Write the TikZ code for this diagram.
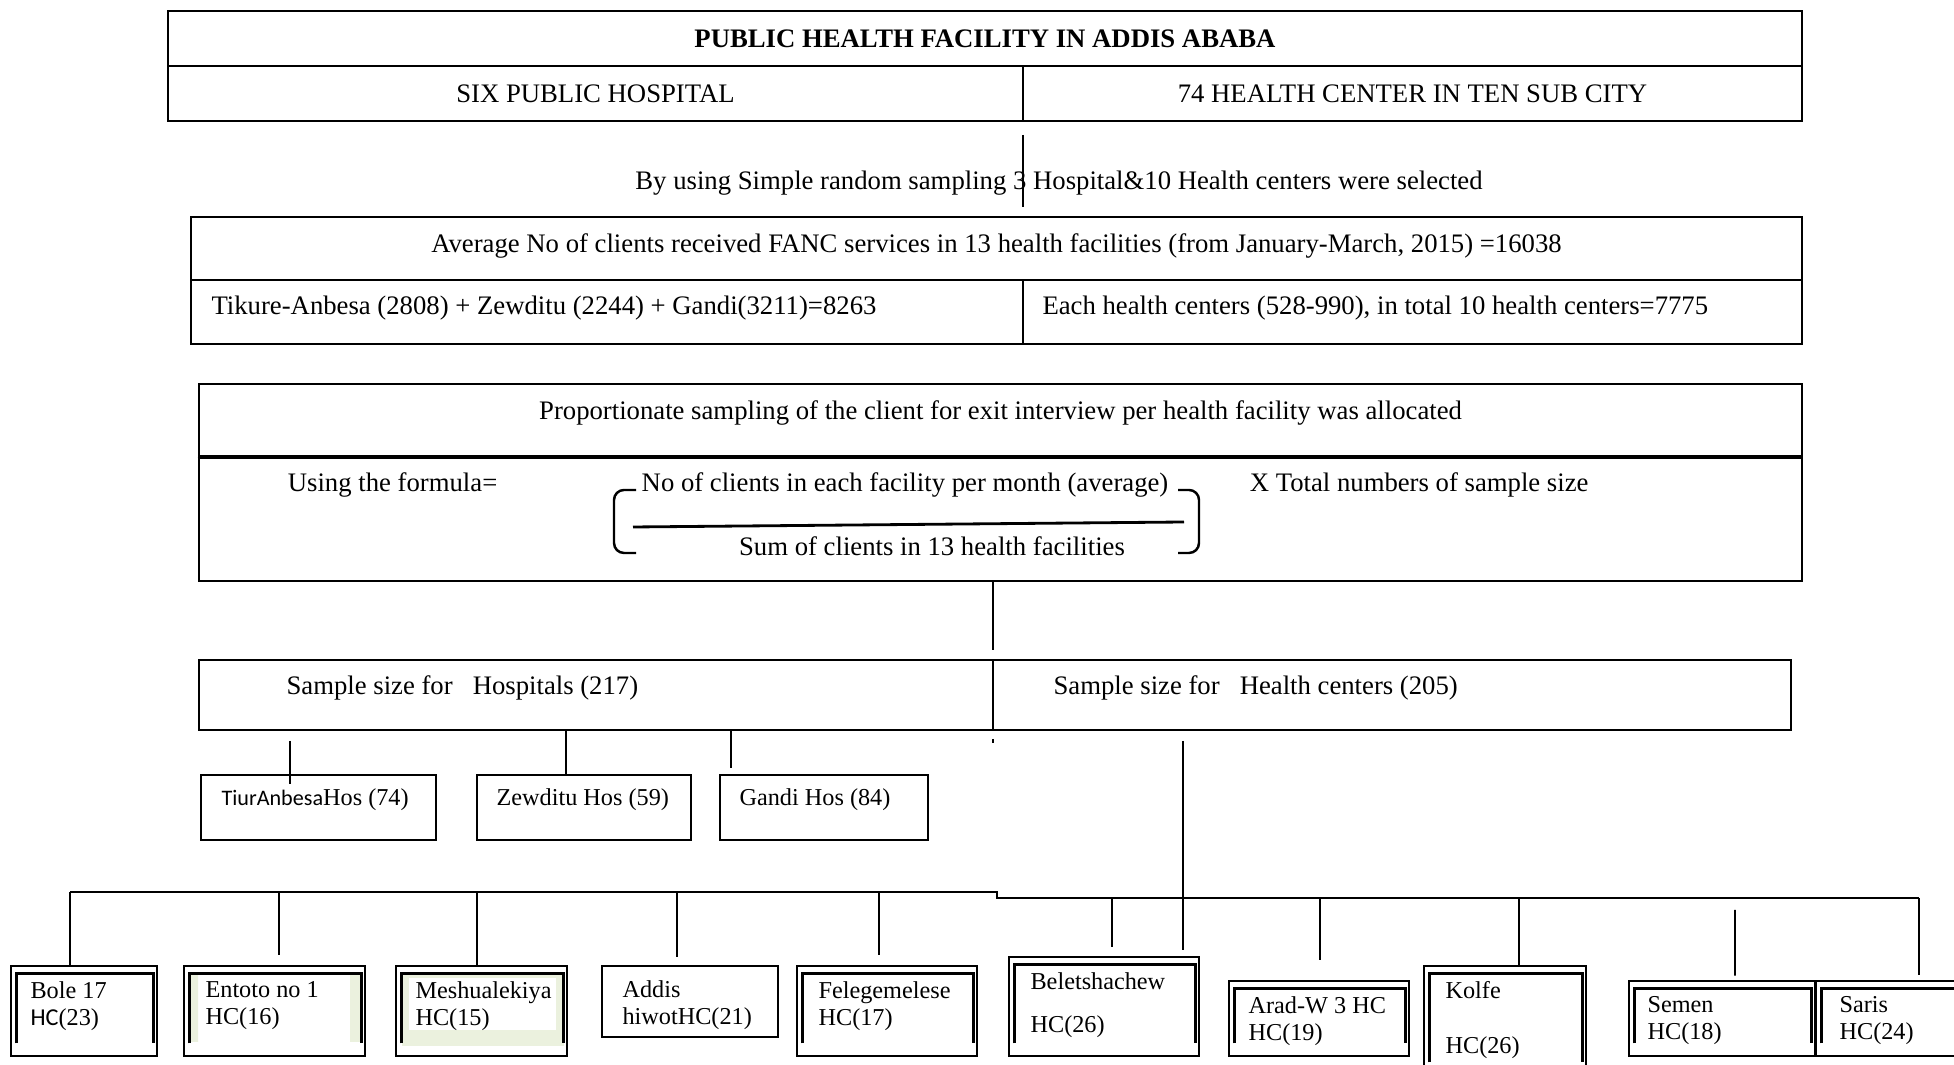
\documentclass[tikz,border=0pt]{standalone}
\usepackage{fontspec}
\setmainfont{Liberation Serif}
\newfontfamily\calib{Carlito}
\usepackage{tikz}
\usetikzlibrary{positioning,calc}

\definecolor{hcgreen}{RGB}{235,241,222}

% inner frame of the health center boxes
\newcommand{\innerframe}[1]{%
  \draw[line width=0.75pt] ([xshift=0.7mm,yshift=1.4mm]#1.south west) |- ([xshift=-0.5mm,yshift=-0.9mm]#1.north east) -- ([xshift=-0.5mm,yshift=1.4mm]#1.south east);}

\begin{document}
\begin{tikzpicture}[x=0.1mm,y=-0.1mm,line width=0.5pt]
  \tikzstyle{every node}=[font=\fontsize{7.6}{7.7}\selectfont]
  \tikzstyle{cell}=[draw,rectangle,line width=0.75pt,inner sep=0pt]
  \tikzstyle{txt}=[inner sep=0pt,anchor=west]
  \tikzstyle{boxtxt}=[inner sep=0pt,anchor=west,font=\fontsize{6.9}{7.7}\selectfont]
  \tikzstyle{hctxt}=[inner sep=0pt,align=left,font=\fontsize{6.9}{7.7}\selectfont]

  \useasboundingbox (0,0) rectangle (1954,1065);
  \clip (0,0) rectangle (1954,1065);

  % facilities
  \node[cell,minimum width=163.4mm,minimum height=5.5mm,font=\fontsize{7.6}{7.7}\selectfont\bfseries] (title) at (985,38.5) {PUBLIC HEALTH FACILITY IN ADDIS ABABA};
  \node[cell,minimum width=85.5mm,minimum height=5.5mm] (sixhosp) at (595.5,93.5) {SIX PUBLIC HOSPITAL};
  \node[cell,minimum width=77.9mm,minimum height=5.5mm] (hcenters) at (1412.5,93.5) {74 HEALTH CENTER IN TEN SUB CITY};

  \coordinate (s1) at (1023,135);
  \coordinate (s2) at (1023,207);
  \node (srs) at (1059,183) {By using Simple random sampling 3 Hospital\&10 Health centers were selected};
  \draw (s1) -- (s2);

  % clients
  \node[cell,minimum width=161.1mm,minimum height=6.3mm] (avg) at (996.5,248.5) {};
  \node (avgtxt) at ([yshift=0.3mm]avg.center) {Average No of clients received FANC services in 13 health facilities (from January-March, 2015) =16038};
  \node[cell,minimum width=83.2mm,minimum height=6.4mm] (hospsum) at (607,312) {};
  \node[cell,minimum width=77.9mm,minimum height=6.4mm] (hcsum) at (1412.5,312) {};
  \node[txt,right=2.1mm of hospsum.west,yshift=0.4mm] (hospsumtxt) {Tikure-Anbesa (2808) + Zewditu (2244) + Gandi(3211)=8263};
  \node[txt,right=2mm of hcsum.west,yshift=0.4mm] (hcsumtxt) {Each health centers (528-990), in total 10 health centers=7775};

  % allocation
  \node[cell,minimum width=160.3mm,minimum height=7.2mm] (propcell) at (1000.5,420) {};
  \node[cell,minimum width=160.3mm,minimum height=12.5mm] (formcell) at (1000.5,518.5) {};
  \draw[line width=0.75pt] ([yshift=-0.35mm]formcell.north west) -- ([yshift=-0.35mm]formcell.north east);
  \node (proptxt) at ([yshift=0.7mm]propcell.center) {Proportionate sampling of the client for exit interview per health facility was allocated};

  \node[txt] (usef) at (287,485) {Using the formula=};
  \node (num) at (905,485) {No of clients in each facility per month (average)};
  \node (den) at (932,546) {Sum of clients in 13 health facilities};
  \node[txt] (xtot) at (1249,485) {X Total numbers of sample size};
  \draw[line width=0.7pt] (636,490) -- (624,490) to[out=180,in=90] (614,500) -- (614,543) to[out=-90,in=180] (624,553) -- (636,553);
  \draw[line width=0.7pt] (1178,490) -- (1189,490) to[out=0,in=90] (1199,500) -- (1199,543) to[out=-90,in=0] (1189,553) -- (1178,553);
  \draw[line width=0.8pt] (633,527) -- (1184,522);

  \coordinate (f1) at (993,650);
  \draw (formcell.south -| f1) -- (f1);

  % sample size
  \node[cell,minimum width=79.4mm,minimum height=7mm] (hospcell) at (596,695) {};
  \node[cell,minimum width=79.8mm,minimum height=7mm] (hccell) at (1392,695) {};
  \node[txt,right=8.8mm of hospcell.west,yshift=0.7mm] (hosptxt) {Sample size for \ \ Hospitals (217)};
  \node[txt,right=6.1mm of hccell.west,yshift=0.7mm] (hctxt) {Sample size for \ \ Health centers (205)};
  \draw (993,739) -- (993,743);

  % hospitals
  \node[cell,minimum width=23.5mm,minimum height=6.5mm] (tiur) at (318.5,807.5) {};
  \node[cell,minimum width=21.4mm,minimum height=6.5mm] (zew) at (584,807.5) {};
  \node[cell,minimum width=20.8mm,minimum height=6.5mm] (gandi) at (824,807.5) {};
  \node[boxtxt,right=2.1mm of tiur.west,yshift=0.75mm] (tiurtxt) {{\calib\fontsize{6.3}{7}\selectfont TiurAnbesa}Hos (74)};
  \node[boxtxt,right=2mm of zew.west,yshift=0.75mm] (zewtxt) {Zewditu Hos (59)};
  \node[boxtxt,right=2mm of gandi.west,yshift=0.75mm] (ganditxt) {Gandi Hos (84)};

  \coordinate (t1) at (290,741);
  \draw (t1) -- ([yshift=-1mm]t1 |- tiur.north);
  \draw ([xshift=-1.8mm]zew.north |- hospcell.south) -- ([xshift=-1.8mm]zew.north);
  \coordinate (g1) at (731,768);
  \draw (g1 |- hospcell.south) -- (g1);

  % health centers
  \node[cell,minimum width=14.6mm,minimum height=9mm] (b1) at (84,1011) {};
  \node[cell,minimum width=18.1mm,minimum height=9mm] (b2) at (274.5,1011) {};
  \node[cell,minimum width=17.1mm,minimum height=9mm] (b3) at (481.5,1011) {};
  \node[cell,minimum width=17.6mm,minimum height=7.1mm] (b4) at (690,1001.5) {};
  \node[cell,minimum width=18mm,minimum height=9mm] (b5) at (887,1011) {};
  \node[cell,minimum width=19mm,minimum height=9.9mm] (b6) at (1104,1006.5) {};
  \node[cell,minimum width=18mm,minimum height=7.5mm] (b7) at (1319,1018.5) {};
  \node[cell,minimum width=16.2mm,minimum height=10.9mm] (b8) at (1505,1020.5) {};
  \node[cell,minimum width=18.6mm,minimum height=7.5mm] (b9) at (1722,1018.5) {};
  \node[cell,minimum width=15mm,minimum height=7.5mm] (b10) at (1891,1018.5) {};

  \fill[hcgreen] (191,975) rectangle (198,1042) (350,975) rectangle (360,1042);
  \fill[hcgreen] (402,975) rectangle (564,1046);
  \fill[white] (409,978) rectangle (556,1030);
  \foreach \b in {b1,b2,b3,b5,b6,b7,b8,b9,b10}
    \innerframe{\b};

  \node[hctxt,below right=1.6mm and 2mm of b1.north west] (b1txt) {Bole 17\\{\calib HC}(23)};
  \node[hctxt,below right=1.6mm and 2.2mm of b2.north west] (b2txt) {Entoto no 1\\HC(16)};
  \node[hctxt,below right=1.6mm and 2mm of b3.north west] (b3txt) {Meshualekiya\\HC(15)};
  \node[hctxt,below right=1.5mm and 2.1mm of b4.north west] (b4txt) {Addis\\hiwotHC(21)};
  \node[hctxt,below right=1.6mm and 2.2mm of b5.north west] (b5txt) {Felegemelese\\HC(17)};
  \node[hctxt,below right=1.6mm and 2.2mm of b6.north west] (b6txt) {Beletshachew\\[1.6mm]HC(26)};
  \node[hctxt,below right=1.6mm and 2mm of b7.north west] (b7txt) {Arad-W 3 HC\\HC(19)};
  \node[hctxt,below right=1.6mm and 2.2mm of b8.north west] (b8txt) {Kolfe\\[2.8mm]HC(26)};
  \node[hctxt,below right=1.6mm and 1.9mm of b9.north west] (b9txt) {Semen\\HC(18)};
  \node[hctxt,below right=1.6mm and 2.4mm of b10.north west] (b10txt) {Saris\\HC(24)};

  \coordinate (h1) at (1183,741);
  \coordinate (h2) at (1183,950);
  \draw (h1) -- (h2);

  \coordinate (busl) at (0,892);
  \coordinate (busr) at (0,898);
  \draw ([xshift=-1.4mm]b1.north |- busl) -- (997,892) -- (997,898) -- ([xshift=2.8mm]b10.north |- busr);
  \foreach \b/\dx/\gap in {b1/-1.4mm/-0.2mm,b2/0.45mm/1mm,b3/-0.45mm/-0.2mm,b4/-1.3mm/0.8mm,b5/-0.8mm/1mm}
    \draw ([xshift=\dx]\b.north |- busl) -- ([xshift=\dx,yshift=\gap]\b.north);
  \foreach \b/\dx/\gap in {b6/0.8mm/0.9mm,b7/0.1mm/2mm,b8/1.4mm/-0.1mm,b10/2.8mm/0.5mm}
    \draw ([xshift=\dx]\b.north |- busr) -- ([xshift=\dx,yshift=\gap]\b.north);
  \coordinate (m1) at (1735,910);
  \draw (m1) -- ([xshift=1.3mm,yshift=0.4mm]b9.north);
\end{tikzpicture}
\end{document}
